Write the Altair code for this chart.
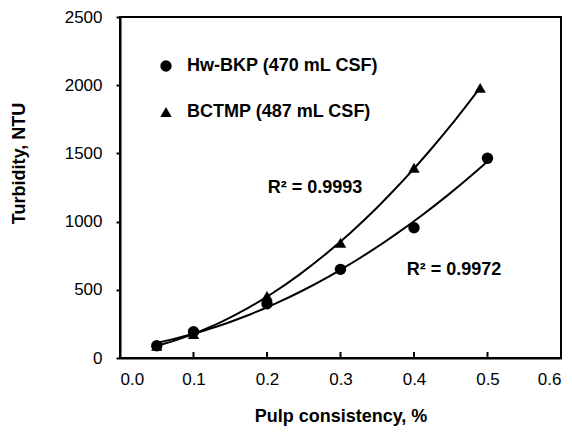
import altair as alt
import pandas as pd

series_names = ["Hw-BKP (470 mL CSF)", "BCTMP (487 mL CSF)"]
hw_x = [0.05, 0.10, 0.20, 0.30, 0.40, 0.50]
hw_y = [90, 192, 398, 650, 955, 1465]
bc_x = [0.05, 0.10, 0.20, 0.30, 0.40, 0.49]
bc_y = [90, 175, 455, 845, 1395, 1980]
x_ticks = [0.0, 0.1, 0.2, 0.3, 0.4, 0.5, 0.6]
y_ticks = [0, 500, 1000, 1500, 2000, 2500]
ann_text = ["R² = 0.9993", "R² = 0.9972"]
ann_x = [0.201, 0.39]
ann_y = [1246, 645]

rows = []
for xv, yv in zip(hw_x, hw_y):
    rows.append({"x": xv, "y": yv, "series": series_names[0]})
for xv, yv in zip(bc_x, bc_y):
    rows.append({"x": xv, "y": yv, "series": series_names[1]})
df = pd.DataFrame(rows)

W, H = 441, 341
FONT = "Liberation Sans"

xs = alt.Scale(domain=[0, 0.6], nice=False)
ys = alt.Scale(domain=[0, 2500], nice=False)

x_axis = alt.Axis(values=x_ticks, format=".1f", title="Pulp consistency, %", ticks=False,
                  grid=False, labelPadding=13, titlePadding=20)
y_axis = alt.Axis(values=y_ticks, format="d", title="Turbidity, NTU", tickSize=4,
                  grid=False, labelPadding=14, titleX=-92, titleY=146)

shape_scale = alt.Scale(domain=series_names, range=["circle", "triangle-up"])

fits = alt.Chart(df).transform_regression(
    "x", "y", method="poly", order=2, groupby=["series"]
).mark_line(color="black", strokeWidth=2).encode(
    x=alt.X("x:Q", scale=xs, axis=x_axis),
    y=alt.Y("y:Q", scale=ys, axis=y_axis),
    detail="series:N",
)

pts = alt.Chart(df).mark_point(filled=True, color="black", opacity=1, size=130).encode(
    x=alt.X("x:Q", scale=xs),
    y=alt.Y("y:Q", scale=ys),
    shape=alt.Shape("series:N", scale=shape_scale, sort=series_names,
                    legend=alt.Legend(title=None, orient="none", legendX=37, legendY=40,
                                      labelFontSize=18, labelFontWeight="bold", labelFont=FONT,
                                      labelColor="black", symbolFillColor="black",
                                      symbolStrokeColor="black", symbolSize=130,
                                      rowPadding=28, labelOffset=12, labelLimit=400)),
)

tick_df = pd.DataFrame({"x": x_ticks[1:-1]})
inner_ticks = alt.Chart(tick_df).mark_rule(color="black", strokeWidth=2).encode(
    x=alt.X("x:Q", scale=xs),
    y=alt.value(H),
    y2=alt.value(H - 6),
)

ann_df = pd.DataFrame({"t": ann_text, "x": ann_x, "y": ann_y})
ann = alt.Chart(ann_df).mark_text(align="left", baseline="middle", fontSize=18,
                                  fontWeight="bold", font=FONT, color="black").encode(
    x=alt.X("x:Q", scale=xs),
    y=alt.Y("y:Q", scale=ys),
    text="t:N",
)

chart = alt.layer(fits, pts, inner_ticks, ann).properties(
    width=W, height=H,
    autosize=alt.AutoSizeParams(type="none"),
    padding={"left": 120, "top": 17, "right": 11, "bottom": 78},
    background="white",
).configure_view(
    stroke="black", strokeWidth=2
).configure_axis(
    domainColor="black", domainWidth=2, tickColor="black", tickWidth=2,
    labelFont=FONT, labelFontSize=17, labelColor="black",
    titleFont=FONT, titleFontSize=18, titleFontWeight="bold", titleColor="black",
)

chart.save("out.html", embed_options={"renderer": "svg", "actions": False})
